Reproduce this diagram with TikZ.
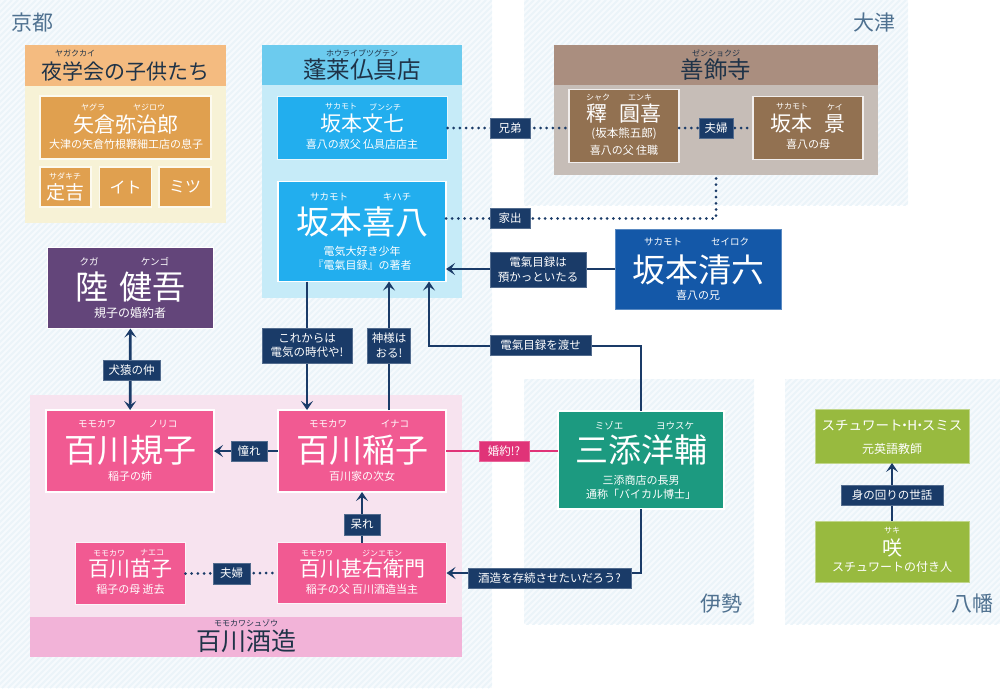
\documentclass[tikz,border=0pt]{standalone}
\usepackage{fontspec}
\setmainfont{Noto Sans CJK JP}
\usetikzlibrary{arrows.meta}
\definecolor{linknavy}{HTML}{1A3B68}
\definecolor{hatchbase}{HTML}{F6FAFD}
\definecolor{hatchline}{HTML}{EBF4F9}
\definecolor{placeblue}{HTML}{4F7190}
\definecolor{headink}{HTML}{1F3348}
\definecolor{yagakuhead}{HTML}{F4BB80}
\definecolor{yagakubody}{HTML}{F7F2D6}
\definecolor{yagakubox}{HTML}{E0A04F}
\definecolor{kugabox}{HTML}{63457A}
\definecolor{horaihead}{HTML}{6CCBEE}
\definecolor{horaibody}{HTML}{C6EBF8}
\definecolor{horaibox}{HTML}{22AEEE}
\definecolor{zenhead}{HTML}{AA8E7F}
\definecolor{zenbody}{HTML}{C6BDB7}
\definecolor{zenbox}{HTML}{927151}
\definecolor{seirokubox}{HTML}{1458A8}
\definecolor{momohead}{HTML}{F2B3D8}
\definecolor{momobody}{HTML}{F7E3EF}
\definecolor{momobox}{HTML}{F15A92}
\definecolor{konyaku}{HTML}{E03378}
\definecolor{misoebox}{HTML}{1C9A80}
\definecolor{smithbox}{HTML}{98BA3F}

\begin{document}
\begin{tikzpicture}[x=1pt, y=-1pt]
    % Styles
    \tikzstyle{band} = [rectangle, inner sep=0pt, outer sep=0pt]
    \tikzstyle{person} = [rectangle, inner sep=0pt, outer sep=0pt, draw=white, line width=1.4pt]
    \tikzstyle{plate} = [inner sep=0pt, text=headink, font=\fontsize{23.5}{25}\selectfont]
    \tikzstyle{place} = [inner sep=0pt, text=placeblue, font=\fontsize{21}{23}\selectfont]
    \tikzstyle{kana} = [inner sep=0pt, text=white, font=\fontsize{8}{9}\selectfont]
    \tikzstyle{kanabig} = [inner sep=0pt, text=white, font=\fontsize{9.5}{10}\selectfont]
    \tikzstyle{kanadark} = [inner sep=0pt, text=headink, font=\fontsize{8}{9}\selectfont]
    \tikzstyle{bigname} = [inner sep=0pt, text=white, font=\fontsize{33}{36}\selectfont]
    \tikzstyle{midname} = [inner sep=0pt, text=white, font=\fontsize{21}{23}\selectfont]
    \tikzstyle{note} = [inner sep=0pt, text=white, font=\fontsize{11}{14}\selectfont]
    \tikzstyle{tag} = [rectangle, fill=linknavy, draw=linknavy!75!white, line width=0.6pt, inner sep=0pt, text=white, align=center, font=\fontsize{11.5}{14.5}\selectfont]
    \tikzstyle{arrow} = [-{Stealth[length=9pt, width=12pt, inset=4pt]}, linknavy, line width=2.7pt]
    \tikzstyle{bothways} = [{Stealth[length=9pt, width=12pt, inset=4pt]}-{Stealth[length=9pt, width=12pt, inset=4pt]}, linknavy, line width=2.7pt]
    \tikzstyle{kinlink} = [linknavy, line width=3pt, line cap=round, dash pattern=on 0pt off 6.2pt]

    \useasboundingbox (0,0) rectangle (1000,688);

    % Hatched town areas
    \foreach \rx/\ry/\rw/\rh in {0/0/492/688, 524/0/384/205, 524/379/230/245, 785/379/215/245} {
        \begin{scope}
            \clip (\rx,\ry) rectangle ++(\rw,\rh);
            \fill[hatchbase] (\rx,\ry) rectangle ++(\rw,\rh);
            \foreach \i in {0,6,...,1700} {
                \draw[hatchline, line width=1.8pt] (\i,0) -- (\i-688,688);
            }
        \end{scope}
    }
    \node[place] (kyoto) at (33,23) {京都};
    \node[place] (otsu) at (874,23) {大津};
    \node[place] (ise) at (721,604) {伊勢};
    \node[place] (yawata) at (972,604) {八幡};

    % Group panels
    \node[band, fill=yagakubody, minimum width=201pt, minimum height=137pt] (yagakuB) at (125.5,154.5) {};
    \node[band, fill=yagakuhead, minimum width=201pt, minimum height=41pt] (yagakuH) at (125.5,65.5) {};
    \node[band, fill=horaibody, minimum width=200pt, minimum height=213pt] (horaiB) at (362,191.5) {};
    \node[band, fill=horaihead, minimum width=200pt, minimum height=40pt] (horaiH) at (362,65) {};
    \node[band, fill=zenbody, minimum width=324pt, minimum height=90pt] (zenB) at (716,130) {};
    \node[band, fill=zenhead, minimum width=324pt, minimum height=40pt] (zenH) at (716,65) {};
    \node[band, fill=momobody, minimum width=432pt, minimum height=222pt] (momoB) at (246,506) {};
    \node[band, fill=momohead, minimum width=432pt, minimum height=40pt] (momoH) at (246,637) {};

    % Nodes - people
    \node[person, fill=yagakubox, draw=yagakubody!40!white, minimum width=171pt, minimum height=63pt] (yagura) at (125.5,127.5) {};
    \node[person, fill=yagakubox, draw=yagakubody!40!white, minimum width=51pt, minimum height=40pt] (sadakichi) at (65.5,187) {};
    \node[person, fill=yagakubox, draw=yagakubody!40!white, minimum width=52pt, minimum height=40pt] (ito) at (125.5,187) {};
    \node[person, fill=yagakubox, draw=yagakubody!40!white, minimum width=52pt, minimum height=40pt] (mitsu) at (185,187) {};
    \node[person, fill=kugabox, minimum width=166pt, minimum height=81pt] (kuga) at (130.5,288) {};
    \node[person, fill=horaibox, draw=horaibody!40!white, minimum width=170pt, minimum height=63pt] (bunshichi) at (362.5,128) {};
    \node[person, fill=horaibox, minimum width=168pt, minimum height=100pt] (kihachi) at (362,231.5) {};
    \node[person, fill=zenbox, draw=zenbody!25!white, minimum width=110pt, minimum height=73pt] (enki) at (624,126) {};
    \node[person, fill=zenbox, draw=zenbody!25!white, minimum width=110pt, minimum height=63pt] (kei) at (808,128) {};
    \node[person, fill=seirokubox, draw=seirokubox!70!white, line width=0.6pt, minimum width=166pt, minimum height=80pt] (seiroku) at (698,269) {};
    \node[person, fill=momobox, minimum width=168pt, minimum height=82pt] (noriko) at (130,451) {};
    \node[person, fill=momobox, minimum width=168pt, minimum height=82pt] (inako) at (362,451) {};
    \node[person, fill=momobox, draw=momobody!40!white, minimum width=110pt, minimum height=62pt] (naeko) at (130.5,573.5) {};
    \node[person, fill=momobox, draw=momobody!40!white, minimum width=169pt, minimum height=61pt] (jinemon) at (362,573) {};
    \node[person, fill=misoebox, minimum width=166pt, minimum height=98pt] (misoe) at (641,460) {};
    \node[person, fill=smithbox, draw=smithbox!60!white, line width=0.8pt, minimum width=154pt, minimum height=54pt] (smith) at (892,436) {};
    \node[person, fill=smithbox, draw=smithbox!60!white, line width=0.8pt, minimum width=154pt, minimum height=61pt] (saki) at (892,551.5) {};

    % Texts
    \node[kanadark] (yagakuK) at (75,53) {ヤガクカイ};
    \node[plate, font=\fontsize{21}{23}\selectfont] (yagakuT) at (125.5,71) {夜学会の子供たち};
    \node[kana] (yaguraK1) at (93,107) {ヤグラ};
    \node[kana] (yaguraK2) at (149,107) {ヤジロウ};
    \node[midname] (yaguraN) at (126,124) {矢倉弥治郎};
    \node[note] (yaguraT) at (126,144) {大津の矢倉竹根鞭細工店の息子};
    \node[kana] (sadakichiK) at (65,176) {サダキチ};
    \node[inner sep=0pt, text=white, font=\fontsize{19}{21}\selectfont] (sadakichiN) at (65.5,192) {定吉};
    \node[inner sep=0pt, text=white, font=\fontsize{16}{18}\selectfont] (itoN) at (125.5,187) {イト};
    \node[inner sep=0pt, text=white, font=\fontsize{16}{18}\selectfont] (mitsuN) at (185,187) {ミツ};
    \node[kanabig] (kugaK1) at (89,262) {クガ};
    \node[kanabig] (kugaK2) at (155,262) {ケンゴ};
    \node[bigname] (kugaN) at (130.5,287) {陸\hspace{.33em}健吾};
    \node[note, font=\fontsize{12}{14}\selectfont] (kugaT) at (130,313) {規子の婚約者};

    \node[kanadark] (horaiK) at (362,53) {ホウライブツグテン};
    \node[plate] (horaiT) at (362,70) {蓬莱仏具店};
    \node[kana] (bunshichiK1) at (341,107) {サカモト};
    \node[kana] (bunshichiK2) at (385,107) {ブンシチ};
    \node[midname] (bunshichiN) at (362,124) {坂本文七};
    \node[note] (bunshichiT) at (362,144) {喜八の叔父 仏具店店主};
    \node[kanabig] (kihachiK1) at (329,197) {サカモト};
    \node[kanabig] (kihachiK2) at (397,197) {キハチ};
    \node[bigname] (kihachiN) at (362,222) {坂本喜八};
    \node[note, align=center] (kihachiT) at (362,258.5) {電気大好き少年\\『電氣目録』の著者};

    \node[kanadark] (zenK) at (716,53) {ゼンショクジ};
    \node[plate] (zenT) at (716,70) {善飾寺};
    \node[kana] (enkiK1) at (598,98) {シャク};
    \node[kana] (enkiK2) at (640,98) {エンキ};
    \node[midname] (enkiN) at (624,114) {釋\hspace{.55em}圓喜};
    \node[note, font=\fontsize{11.5}{14}\selectfont] (enkiA) at (624,134) {(坂本熊五郎)};
    \node[note] (enkiT) at (624,150) {喜八の父 住職};
    \node[kana] (keiK1) at (792,107) {サカモト};
    \node[kana] (keiK2) at (835,107) {ケイ};
    \node[midname] (keiN) at (808,124) {坂本\hspace{.55em}景};
    \node[note] (keiT) at (808,144) {喜八の母};

    \node[kanabig] (seirokuK1) at (663,242) {サカモト};
    \node[kanabig] (seirokuK2) at (730,242) {セイロク};
    \node[bigname] (seirokuN) at (698,270) {坂本清六};
    \node[note] (seirokuT) at (698,295) {喜八の兄};

    \node[kanabig] (norikoK1) at (97,424) {モモカワ};
    \node[kanabig] (norikoK2) at (163,424) {ノリコ};
    \node[bigname] (norikoN) at (130,450) {百川規子};
    \node[note] (norikoT) at (130,476) {稲子の姉};
    \node[kanabig] (inakoK1) at (328,424) {モモカワ};
    \node[kanabig] (inakoK2) at (395,424) {イナコ};
    \node[bigname] (inakoN) at (362,450) {百川稲子};
    \node[note] (inakoT) at (362,476) {百川家の次女};
    \node[kana] (naekoK1) at (109,553) {モモカワ};
    \node[kana] (naekoK2) at (152,553) {ナエコ};
    \node[midname] (naekoN) at (130.5,569) {百川苗子};
    \node[note] (naekoT) at (130.5,589) {稲子の母 逝去};
    \node[kana] (jinemonK1) at (317,553) {モモカワ};
    \node[kana] (jinemonK2) at (382,553) {ジンエモン};
    \node[midname] (jinemonN) at (362,569) {百川甚右衛門};
    \node[note] (jinemonT) at (362,589) {稲子の父 百川酒造当主};
    \node[kanadark] (momoK) at (246,623) {モモカワシュゾウ};
    \node[plate, font=\fontsize{25}{27}\selectfont] (momoT) at (246,641) {百川酒造};

    \node[kanabig] (misoeK1) at (609,426) {ミゾエ};
    \node[kanabig] (misoeK2) at (675,426) {ヨウスケ};
    \node[bigname] (misoeN) at (641,450) {三添洋輔};
    \node[note, align=center] (misoeT) at (641,487) {三添商店の長男\\通称「バイカル博士」};
    \node[inner sep=0pt, text=white, font=\fontsize{13.5}{16}\selectfont] (smithN) at (892,426) {スチュワート\kern-.35em・\kern-.3emH\kern-.3em・\kern-.35emスミス};
    \node[note, font=\fontsize{12}{14}\selectfont] (smithT) at (892,449) {元英語教師};
    \node[kana] (sakiK) at (892,531) {サキ};
    \node[inner sep=0pt, text=white, font=\fontsize{20}{22}\selectfont] (sakiN) at (892,548) {咲};
    \node[note, font=\fontsize{12}{14}\selectfont] (sakiT) at (892,567) {スチュワートの付き人};

    % Arrows
    \draw[bothways] (kuga) -- (noriko);
    \draw[kinlink] (bunshichi.east) -- (bunshichi.east -| enki.west);
    \draw[kinlink] (enki.east |- kei.west) -- (kei.west);
    \draw[kinlink] ([yshift=13pt]kihachi.east) -| (zenB.south);
    \draw[arrow] (seiroku.west) -- (kihachi.east |- seiroku.west);
    \draw[arrow] ([xshift=-55pt]kihachi.south) -- ([xshift=-55pt]inako.north);
    \draw[arrow] ([xshift=27pt]inako.north) -- ([xshift=27pt]kihachi.south);
    \draw[arrow] (misoe.north) |- (429,346) -- ([xshift=67pt]kihachi.south);
    \draw[arrow] (inako.west) -- (noriko.east);
    \draw[draw=konyaku, line width=2.7pt] (inako.east) -- (inako.east -| misoe.west);
    \draw[arrow] (jinemon.north) -- (inako.south);
    \draw[kinlink] (naeko.east) -- (jinemon.west);
    \draw[arrow] (misoe.south) |- (jinemon.east);
    \draw[arrow] (saki.north) -- (smith.south);

    % Link labels
    \node[tag, minimum width=57pt, minimum height=20pt] (tagKen) at (131.5,370) {犬猿の仲};
    \node[tag, minimum width=40pt, minimum height=20pt] (tagKyodai) at (510,128) {兄弟};
    \node[tag, minimum width=34pt, minimum height=20pt] (tagFufuA) at (716,128) {夫婦};
    \node[tag, minimum width=40pt, minimum height=20pt] (tagIede) at (510,218.5) {家出};
    \node[tag, minimum width=96pt, minimum height=35pt] (tagAzukari) at (538,269.5) {電氣目録は\\預かっといたる};
    \node[tag, minimum width=90pt, minimum height=35pt] (tagKorekara) at (307,345.5) {これからは\\電気の時代や!};
    \node[tag, minimum width=43pt, minimum height=35pt] (tagKami) at (389,345.5) {神様は\\おる!};
    \node[tag, minimum width=101pt, minimum height=20pt] (tagWatase) at (540.5,345.5) {電氣目録を渡せ};
    \node[tag, minimum width=36pt, minimum height=20pt] (tagAkogare) at (249,451) {憧れ};
    \node[tag, fill=konyaku, draw=konyaku!75!white, minimum width=50pt, minimum height=20pt] (tagKonyaku) at (504,451) {婚約!?};
    \node[tag, minimum width=36pt, minimum height=21pt] (tagAkire) at (362,524.5) {呆れ};
    \node[tag, minimum width=37pt, minimum height=21pt] (tagFufuB) at (231.5,573.5) {夫婦};
    \node[tag, minimum width=163pt, minimum height=20pt] (tagShuzo) at (549.5,578) {酒造を存続させたいだろう?};
    \node[tag, minimum width=102pt, minimum height=20pt] (tagSewa) at (892,495) {身の回りの世話};
\end{tikzpicture}
\end{document}
